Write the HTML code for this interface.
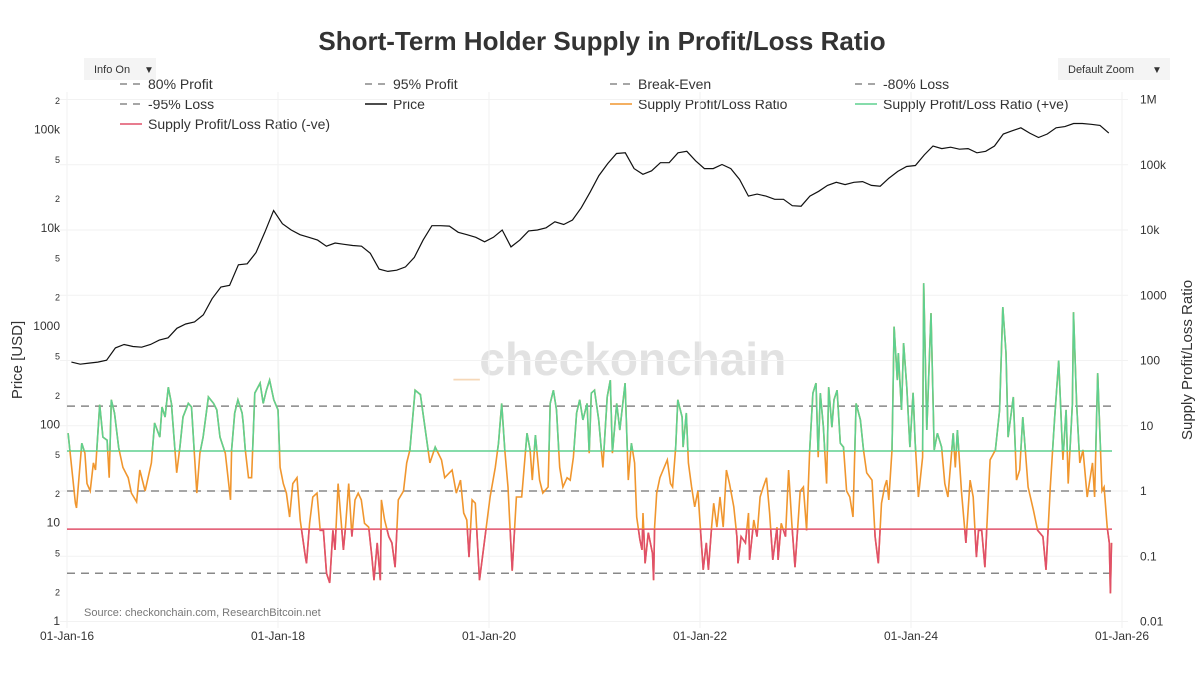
<!DOCTYPE html>
<html><head><meta charset="utf-8"><style>
body{margin:0;background:#fff;font-family:"Liberation Sans",sans-serif;}
svg text{font-family:"Liberation Sans",sans-serif;}
</style></head><body>
<svg id="chart" width="1200" height="677" xmlns="http://www.w3.org/2000/svg">
<rect width="1200" height="677" fill="#fff"/>
<text x="602" y="50" text-anchor="middle" font-size="26" font-weight="bold" fill="#333">Short-Term Holder Supply in Profit/Loss Ratio</text>
<g><rect x="84" y="58" width="72" height="22" fill="#f4f4f4"/><text x="94" y="73" font-size="11" fill="#333">Info On</text><text x="144" y="73" font-size="10" fill="#333">▼</text></g>
<g><rect x="1058" y="58" width="112" height="22" fill="#f4f4f4"/><text x="1068" y="73" font-size="11" fill="#333">Default Zoom</text><text x="1152" y="73" font-size="10" fill="#333">▼</text></g>
<g id="legend"></g>
<text x="620" y="375" text-anchor="middle" font-size="46" font-weight="bold" fill="#e2e2e2"><tspan fill="#f6d8b8">_</tspan>checkonchain</text>
<g id="grid"></g>
<g id="refs"></g>
<defs>
<clipPath id="clipG"><rect x="60" y="0" width="1080" height="451"/></clipPath>
<clipPath id="clipR"><rect x="60" y="529" width="1080" height="148"/></clipPath>
</defs>
<g id="series"></g>
<g id="axes"></g>
<text x="84" y="616" font-size="11" fill="#777">Source: checkonchain.com, ResearchBitcoin.net</text>
<text transform="translate(22,360) rotate(-90)" text-anchor="middle" font-size="15" fill="#333">Price [USD]</text>
<text transform="translate(1192,360) rotate(-90)" text-anchor="middle" font-size="15" fill="#333">Supply Profit/Loss Ratio</text>
</svg>
<script>
const priceStart = 2016;
const priceValues = [430,410,420,430,450,600,650,620,610,650,720,760,
950,1050,1100,1300,1900,2500,2600,4200,4300,5600,9000,15000,
11000,9500,8500,8000,7500,6500,7000,6800,6600,6500,5500,3800,
3600,3700,4000,5000,7500,10500,10500,10400,9000,8500,8000,7200,
8000,9500,6400,7500,9300,9500,10000,11500,10800,12000,16000,23000,
34000,45000,57000,58000,40000,35000,38000,46000,46000,58000,60000,48000,
40000,40000,44000,40000,31000,21000,22000,21000,19500,19500,16800,16600,
21000,23500,27000,29000,27500,29000,29500,27000,26500,32000,37500,42000,
43000,55000,68000,64000,66000,63000,64000,58000,60000,68000,90000,97000,
104000,92000,83000,90000,104000,107000,115000,115000,113000,110000,92000];
const ratioTimes = [2016.01,2016.08,2016.09,2016.14,2016.17,2016.19,2016.22,2016.25,2016.27,2016.31,2016.34,2016.38,2016.40,2016.42,2016.45,2016.49,2016.53,2016.58,2016.61,2016.66,2016.69,2016.74,2016.80,2016.83,2016.88,2016.90,2016.93,2016.96,2016.99,2017.04,2017.07,2017.10,2017.15,2017.18,2017.23,2017.26,2017.29,2017.34,2017.39,2017.42,2017.45,2017.50,2017.55,2017.56,2017.59,2017.62,2017.66,2017.67,2017.69,2017.72,2017.75,2017.78,2017.83,2017.86,2017.89,2017.92,2017.96,2018.00,
2018.02,2018.05,2018.08,2018.11,2018.14,2018.18,2018.21,2018.26,2018.27,2018.30,2018.33,2018.37,2018.40,2018.43,2018.46,2018.49,2018.52,2018.54,2018.57,2018.60,2018.62,2018.64,2018.67,2018.70,2018.73,2018.76,2018.79,2018.82,2018.86,2018.89,2018.91,2018.94,2018.97,2018.98,2019.01,2019.05,2019.08,2019.11,2019.14,2019.19,2019.22,2019.25,2019.30,2019.35,2019.44,2019.49,2019.55,2019.58,2019.65,2019.69,2019.73,2019.76,2019.79,2019.81,2019.84,2019.87,2019.91,
2020.01,2020.06,2020.09,2020.12,2020.15,2020.18,2020.22,2020.26,2020.31,2020.36,2020.39,2020.41,2020.44,2020.48,2020.51,2020.56,2020.58,2020.61,2020.64,2020.67,2020.70,2020.74,2020.77,2020.80,2020.83,2020.86,2020.89,2020.93,2020.95,2020.97,2021.00,2021.04,2021.08,2021.12,2021.15,2021.17,2021.21,2021.24,2021.29,2021.32,2021.35,
2021.38,2021.40,2021.43,2021.45,2021.46,2021.48,2021.51,2021.55,2021.56,2021.57,2021.59,2021.62,2021.65,2021.69,2021.72,2021.74,2021.77,2021.79,2021.83,2021.84,2021.87,2021.89,2021.92,
2021.95,2021.98,2022.03,2022.06,2022.08,2022.11,2022.13,2022.16,2022.19,2022.22,2022.25,2022.28,2022.32,2022.35,2022.36,2022.39,2022.43,2022.46,2022.47,2022.51,2022.54,2022.57,2022.60,2022.63,2022.66,2022.69,2022.73,2022.74,2022.77,2022.81,2022.84,2022.87,2022.90,2022.92,2022.95,2022.98,2023.01,2023.04,2023.07,2023.10,2023.12,2023.14,2023.17,2023.20,2023.22,2023.25,2023.27,2023.30,2023.33,2023.36,2023.39,2023.42,2023.45,2023.48,2023.52,2023.55,2023.58,2023.63,2023.66,2023.69,2023.72,2023.75,
2023.77,2023.79,2023.82,2023.83,2023.84,2023.87,2023.88,2023.91,2023.93,2023.96,2023.99,2024.02,2024.04,2024.07,2024.11,2024.12,2024.15,2024.19,2024.22,2024.25,2024.29,2024.32,2024.35,2024.40,2024.42,2024.44,2024.48,2024.52,2024.56,2024.59,2024.62,2024.64,2024.67,2024.70,2024.75,2024.80,2024.84,2024.87,2024.90,2024.92,2024.97,2025.00,2025.03,2025.06,2025.11,2025.16,2025.20,2025.25,2025.28,2025.32,2025.36,2025.40,2025.44,2025.47,2025.49,2025.53,2025.54,2025.57,2025.60,2025.63,2025.67,2025.72,2025.74,2025.77,2025.81,2025.83,2025.86,2025.88,2025.89,2025.90];
const ratioValues = [7.7,0.65,0.55,5.4,3.8,1.3,1.0,2.7,2.1,21,6.7,6.0,1.6,25,15.7,4.6,2.3,1.6,0.93,0.68,2.1,1.0,2.7,11,6.7,19.4,13.6,39,22,1.9,4.7,13.6,22,19.4,0.93,3.8,6.7,27.6,22,17.5,6.7,3.8,0.73,4.25,15.7,25,15.7,11,4.25,1.6,1.6,31.7,45,22,35,50,25,17.5,
2.3,1.3,0.93,0.4,1.3,1.6,0.36,0.097,0.078,0.32,0.81,0.93,0.25,0.25,0.055,0.039,0.25,0.125,1.3,0.32,0.125,0.28,1.3,0.2,0.73,0.93,0.73,0.32,0.28,0.097,0.043,0.16,0.043,0.73,0.36,0.2,0.16,0.068,0.73,1.0,2.7,4.25,35,30,2.7,4.7,3,1.6,2.1,0.93,1.47,0.46,0.36,0.097,0.73,0.65,0.043,
0.81,2.3,5.4,22,4.25,1.15,0.06,0.81,0.81,7.7,4.25,1.47,7.2,1.47,0.93,1.15,22,35,17.5,2.3,1.15,1.6,1.47,3.3,15.7,25,12.3,22,3.8,31.7,35,12.3,2.3,27.6,50,3.8,22,8.6,45,1.47,5.4,
2.7,0.4,0.18,0.125,0.46,0.078,0.23,0.11,0.043,0.28,0.93,1.6,2.1,3,1.3,1.15,4.7,25,13.6,4.7,15.7,2.7,1.15,
0.57,1,0.062,0.16,0.062,0.28,0.65,0.28,0.81,0.28,2.1,1.3,0.57,0.2,0.078,0.2,0.16,0.46,0.088,0.36,0.2,0.81,1.15,1.6,0.46,0.088,0.28,0.088,0.32,0.2,2.1,0.32,0.068,0.2,1,1.15,0.25,4.25,31.7,45,3.3,31.7,9.5,1.3,39,9.5,25,35,5.4,4.7,1,0.81,0.4,22,12.3,4.25,1.9,1.47,0.2,0.078,0.65,1.15,
1.47,0.73,4.25,39,330,50,130,17.5,185,39,4.7,32,5.4,0.81,3.3,1530,8.6,530,4.25,7.7,4.7,1.3,0.81,7.7,2.3,8.6,0.93,0.16,1.47,0.81,0.097,0.25,0.25,0.068,3,4.25,17.5,660,130,6.7,27.6,1.47,2.1,13.6,1.15,0.51,0.25,0.2,0.062,1.15,12.3,100,3,17.5,1.3,22,550,22,2.7,4.25,0.81,2.7,0.81,64,1,1.15,0.28,0.16,0.027,0.16];
const refLevels = [20,4.1,1,0.26,0.055];
const leftTicks = [1,2,5,10,20,50,100,200,500,1000,2000,5000,10000,20000,50000,100000,200000];
const leftLabels = ["1","2","5","10","2","5","100","2","5","1000","2","5","10k","2","5","100k","2"];
const rightTicks = [0.01,0.1,1,10,100,1000,10000,100000,1000000];
const rightLabels = ["0.01","0.1","1","10","100","1000","10k","100k","1M"];
const xTickYears = [2016,2018,2020,2022,2024,2026];
const xTickLabels = ["01-Jan-16","01-Jan-18","01-Jan-20","01-Jan-22","01-Jan-24","01-Jan-26"];

const NS="http://www.w3.org/2000/svg";
const X = t => 67 + (t-2016)*105.5;
const YL = v => 621 - 98.3*Math.log10(v);
const YR = v => 491 - 65.25*Math.log10(v);
function mk(tag, attrs, parent){const e=document.createElementNS(NS,tag);for(const k in attrs)e.setAttribute(k,attrs[k]);parent.appendChild(e);return e;}
const grid=document.getElementById('grid'), refs=document.getElementById('refs'), series=document.getElementById('series'), axes=document.getElementById('axes'), legend=document.getElementById('legend');

rightTicks.forEach(v=>{const l=mk('line',{x1:60,x2:1128,y1:YR(v),y2:YR(v),stroke:'#f2f2f2','stroke-width':1},grid);

});
xTickYears.forEach((yr,i)=>{const l=mk('line',{x1:X(yr),x2:X(yr),y1:92,y2:628,stroke:'#f2f2f2','stroke-width':1},grid);


const t=mk('text',{x:X(yr),y:640,'text-anchor':'middle','font-size':12,fill:'#333'},axes);t.textContent=xTickLabels[i];

});
leftTicks.forEach((v,i)=>{const major=leftLabels[i]!=="2"&&leftLabels[i]!=="5";
const t=mk('text',{x:60,y:YL(v)+4,'text-anchor':'end','font-size':major?12:9,fill:'#333'},axes);t.textContent=leftLabels[i];

});
rightTicks.forEach((v,i)=>{const t=mk('text',{x:1140,y:YR(v)+4,'font-size':12,fill:'#333'},axes);t.textContent=rightLabels[i];

});

refLevels.forEach((v,i)=>{let a={x1:67,x2:1112,y1:YR(v),y2:YR(v),'stroke-width':1.5};
if(i===1){a.stroke='#5fd08f';}else if(i===3){a.stroke='#e0506a';}else{a.stroke='#888';a['stroke-dasharray']='8,6';}
const l=mk('line',a,refs);

});

const pricePts=priceValues.map((v,i)=>X(priceStart+(i+0.5)/12).toFixed(1)+','+YL(v).toFixed(1)).join(' ');
const pl=mk('polyline',{points:pricePts,fill:'none',stroke:'#111','stroke-width':1.2},series);


const rPts=ratioTimes.map((t,i)=>X(t).toFixed(1)+','+YR(ratioValues[i]).toFixed(1)).join(' ');
const ro=mk('polyline',{points:rPts,fill:'none',stroke:'#f0962e','stroke-width':1.6},series);


const rg=mk('polyline',{points:rPts,fill:'none',stroke:'#5fd08f','stroke-width':1.6,'clip-path':'url(#clipG)'},series);


const rr=mk('polyline',{points:rPts,fill:'none',stroke:'#e0506a','stroke-width':1.6,'clip-path':'url(#clipR)'},series);



const legItems=[["80% Profit","#888",1,120,88],["95% Profit","#888",1,365,88],["Break-Even","#888",1,610,88],["-80% Loss","#888",1,855,88],
["-95% Loss","#888",1,120,108],["Price","#111",0,365,108],["Supply Profit/Loss Ratio","#f0962e",0,610,108],["Supply Profit/Loss Ratio (+ve)","#5fd08f",0,855,108],
["Supply Profit/Loss Ratio (-ve)","#e0506a",0,120,128]];
legItems.forEach(it=>{const g=mk('g',{},legend);


const a={x1:it[3],x2:it[3]+22,y1:it[4]-4,y2:it[4]-4,stroke:it[1],'stroke-width':1.6};if(it[2])a['stroke-dasharray']='7,6';
mk('line',a,g);const t=mk('text',{x:it[3]+28,y:it[4]+1,'font-size':14,fill:'#333'},g);t.textContent=it[0];});
</script>
</body></html>
